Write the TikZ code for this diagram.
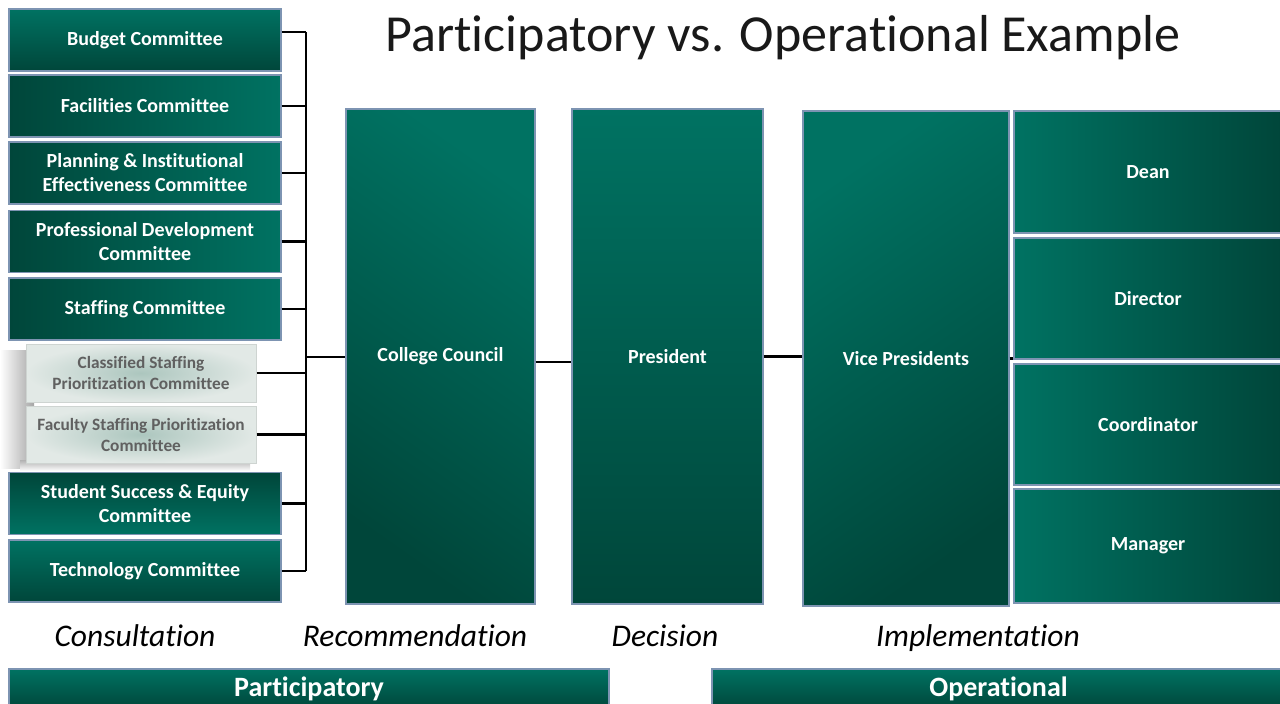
\documentclass[tikz,border=0pt]{standalone}
\usepackage{fontspec}
\setmainfont{Carlito}[Ligatures=NoCommon]
\usetikzlibrary{positioning}

\definecolor{tealLight}{RGB}{0,114,98}
\definecolor{tealDark}{RGB}{0,70,58}
\definecolor{boxEdge}{RGB}{125,148,178}
\definecolor{paleIn}{RGB}{172,198,190}
\definecolor{paleOut}{RGB}{226,233,230}
\definecolor{paleText}{RGB}{96,96,96}

\begin{document}
\begin{tikzpicture}
        [x=1pt, y=-1pt,
        box/.style={draw=boxEdge, line width=1.2pt, inner sep=2pt, text=white, align=center,
            font=\fontsize{20}{24}\selectfont\bfseries},
        committee/.style={box, minimum width=272, minimum height=62, left color=tealDark, right color=tealLight},
        paleBox/.style={draw=paleOut!80!gray, line width=1pt, minimum width=230, minimum height=58,
            inner color=paleIn, outer color=paleOut, text=paleText, align=center,
            font=\fontsize{17.3}{21}\selectfont\bfseries},
        tallBox/.style={box, minimum height=495},
        rank/.style={box, minimum width=268, left color=tealLight, right color=tealDark},
        phase/.style={anchor=base, font=\fontsize{31.5}{34}\selectfont\itshape},
        banner/.style={box, minimum height=40, inner sep=0pt, top color=tealLight, bottom color=tealDark,
            font=\fontsize{28}{30}\selectfont\bfseries},
        link/.style={black, line width=2.5pt}]

        \clip (0,0) rectangle (1280,704);
        \fill[white] (0,0) rectangle (1280,704);

        % title
        \node[font=\fontsize{52}{56}\selectfont, text=black!90] (title) at (783,38) {Participatory vs. Operational Example};

        % shadow behind the pale boxes
        \shade[left color=white, right color=black!35] (0,350) rectangle (34,468);
        \shade[top color=black!30, bottom color=white] (20,460) rectangle (250,471);

        % committees
        \node[committee, top color=tealLight, bottom color=tealDark] (budget) at (145,40) {Budget Committee};
        \node[committee] (facilities) at (145,106) {Facilities Committee};
        \node[committee] (planning) at (145,173) {Planning \& Institutional\\Effectiveness Committee};
        \node[committee] (profdev) at (145,241.5) {Professional Development\\Committee};
        \node[committee] (staffing) at (145,309) {Staffing Committee};
        \node[paleBox] (classified) at (141,373) {Classified Staffing\\Prioritization Committee};
        \node[paleBox, minimum height=57] (faculty) at (141,434.5) {Faculty Staffing Prioritization\\Committee};
        \node[committee, top color=tealDark, bottom color=tealLight] (success) at (145,503.5) {Student Success \& Equity\\Committee};
        \node[committee, top color=tealLight, bottom color=tealDark] (technology) at (145,571) {Technology Committee};

        % council, president, vice presidents
        \node[tallBox, minimum width=189, top color=tealLight, bottom color=tealDark, shading angle=-35] (council) at (440.5,356.5) {College Council};
        \node[tallBox, minimum width=191, top color=tealLight, bottom color=tealDark] (president) at (667.5,356.5) {President};
        \node[tallBox, minimum width=206, top color=tealLight, bottom color=tealDark, shading angle=35] (vp) at (906,358.5) {Vice Presidents};

        % operational ranks
        \node[rank, minimum height=122] (dean) at (1148,172) {Dean};
        \node[rank, minimum height=121] (director) at (1148,298.5) {Director};
        \node[rank, minimum height=121] (coordinator) at (1148,424.5) {Coordinator};
        \node[rank, minimum height=114] (manager) at (1148,546) {Manager};

        % bus and links
        \coordinate (busTop) at (306,32);
        \coordinate (busBot) at (306,571);
        \coordinate (busMid) at (306,357);
        \draw[link] (busTop) -- (busBot);
        \draw[link] ([yshift=8]budget.east) -- (busTop);
        \foreach \c in {facilities, planning, profdev, staffing, classified, faculty, success, technology}
            \draw[link] (\c.east) -- (\c.east -| busTop);
        \draw[link] (busMid) -- (busMid -| council.west);
        \draw[link] ([yshift=-5.5]council.east) -- ([yshift=-5.5]council.east -| president.west);
        \draw[link] (president.east) -- (president.east -| vp.west);
        \draw[link] (vp.east) -- (vp.east -| dean.west);

        % phases
        \node[phase] (consult) at (135,646) {Consultation};
        \node[phase] (recommend) at (415,646) {Recommendation};
        \node[phase] (decide) at (665,646) {Decision};
        \node[phase] (implement) at (978,646) {Implementation};

        % banners
        \node[banner, minimum width=600] (participatory) at (309,689) {Participatory};
        \node[banner, minimum width=573] (operational) at (998.5,689) {Operational};

    \end{tikzpicture}
\end{document}
